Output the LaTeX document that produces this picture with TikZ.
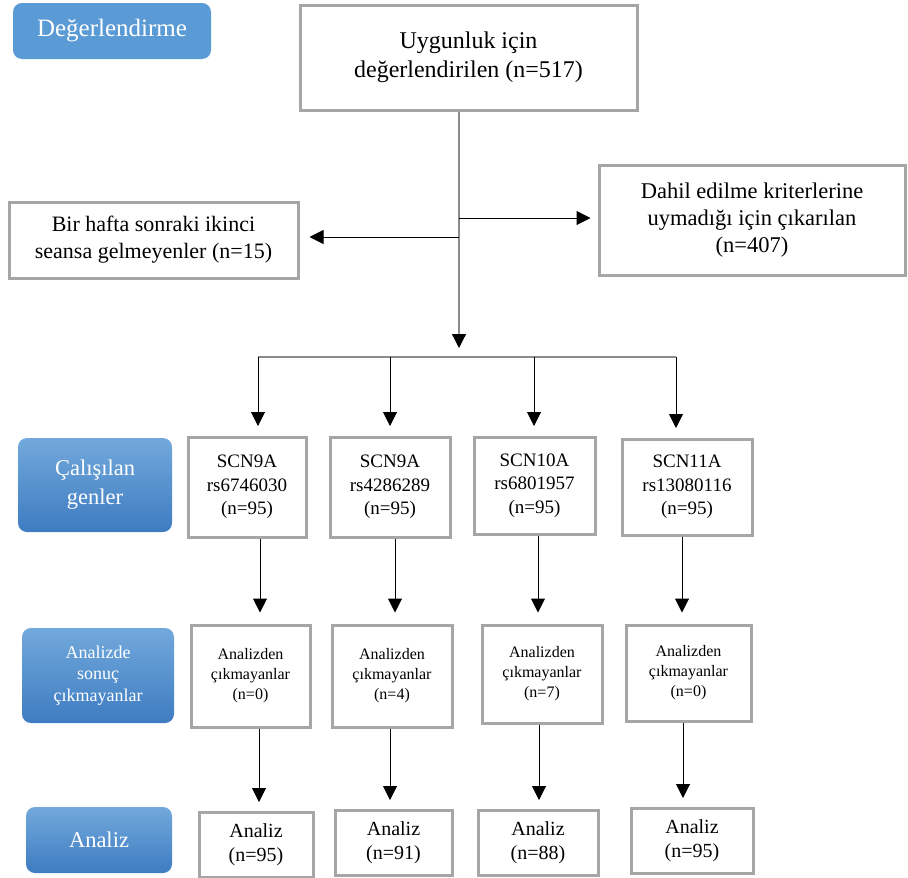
\documentclass[tikz,border=0pt]{standalone}
\usepackage{fontspec}
\setmainfont{Liberation Serif}
\usetikzlibrary{arrows.meta}
\definecolor{bord}{HTML}{A6A6A6}
\definecolor{flatblue}{HTML}{5B9BD5}
\definecolor{topblue}{HTML}{72A9DC}
\definecolor{botblue}{HTML}{3E7CC1}
\definecolor{trunkgray}{HTML}{8C8C8C}
\tikzset{
  box/.style={draw=bord, line width=3pt, fill=white, align=center, inner sep=0pt, text=black},
  lbl/.style={rounded corners=9pt, top color=topblue, bottom color=botblue, draw=none, text=white, align=center, inner sep=0pt},
  tip/.style={-{Triangle[width=14pt,length=14pt,color=black]}},
  arr/.style={tip, line width=1pt, draw=black},
  trunk/.style={line width=1.2pt, draw=trunkgray},
}
\begin{document}
\begin{tikzpicture}[x=1pt,y=-1pt]
\useasboundingbox (0,0) rectangle (908,878);
% side labels
\node[lbl, top color=flatblue, bottom color=flatblue, minimum width=198pt, minimum height=56pt, font=\rmfamily\fontsize{25}{28}\selectfont] (deg) at (112,31) {Değerlendirme};
\node[lbl, minimum width=154pt, minimum height=94pt, font=\rmfamily\fontsize{22.5}{29}\selectfont] (gl) at (95,485) {Çalışılan\\genler};
\node[lbl, minimum width=152pt, minimum height=95pt, font=\rmfamily\fontsize{18}{21.5}\selectfont] (al) at (98,675.5) {Analizde\\sonuç\\çıkmayanlar};
\node[lbl, minimum width=146pt, minimum height=66pt, font=\rmfamily\fontsize{22.5}{26}\selectfont] (anl) at (99,840) {Analiz};
% main boxes
\node[box, minimum width=337pt, minimum height=105pt, font=\rmfamily\fontsize{24}{28.5}\selectfont] (top) at (468.5,57.5) {Uygunluk için\\değerlendirilen (n=517)};
\node[box, minimum width=289pt, minimum height=76pt, font=\rmfamily\fontsize{22}{27}\selectfont] (left) at (153.5,240) {Bir hafta sonraki ikinci\\seansa gelmeyenler (n=15)};
\node[box, minimum width=306pt, minimum height=110pt, font=\rmfamily\fontsize{22.5}{27}\selectfont] (right) at (752,220) {Dahil edilme kriterlerine\\uymadığı için çıkarılan\\(n=407)};
% genes
\tikzset{gfont/.style={font=\rmfamily\fontsize{19}{23.5}\selectfont}}
\node[box, gfont, minimum width=118pt, minimum height=100pt] (g1) at (247,487) {SCN9A\\rs6746030\\(n=95)};
\node[box, gfont, minimum width=120pt, minimum height=100pt] (g2) at (390,487) {SCN9A\\rs4286289\\(n=95)};
\node[box, gfont, minimum width=121pt, minimum height=97pt] (g3) at (534.5,485.5) {SCN10A\\rs6801957\\(n=95)};
\node[box, gfont, minimum width=130pt, minimum height=96pt] (g4) at (687,487) {SCN11A\\rs13080116\\(n=95)};
% excluded
\tikzset{afont/.style={font=\rmfamily\fontsize{16}{20}\selectfont}}
\node[box, afont, minimum width=119pt, minimum height=102pt] (a1) at (250.5,676) {Analizden\\çıkmayanlar\\(n=0)};
\node[box, afont, minimum width=120pt, minimum height=102pt] (a2) at (392,676) {Analizden\\çıkmayanlar\\(n=4)};
\node[box, afont, minimum width=120pt, minimum height=98pt] (a3) at (542,674) {Analizden\\çıkmayanlar\\(n=7)};
\node[box, afont, minimum width=125pt, minimum height=96pt] (a4) at (688.5,673) {Analizden\\çıkmayanlar\\(n=0)};
% analysis
\tikzset{rfont/.style={font=\rmfamily\fontsize{20}{24.5}\selectfont}}
\node[box, rfont, minimum width=114pt, minimum height=65pt] (r1) at (256,844.5) {Analiz\\(n=95)};
\node[box, rfont, minimum width=117pt, minimum height=65pt] (r2) at (393.5,842.5) {Analiz\\(n=91)};
\node[box, rfont, minimum width=120pt, minimum height=65pt] (r3) at (538,842.5) {Analiz\\(n=88)};
\node[box, rfont, minimum width=122pt, minimum height=65pt] (r4) at (692,840.5) {Analiz\\(n=95)};
% trunk
\coordinate (tx) at (459,0);
\coordinate (tj) at (459,348);
\coordinate (hl) at (258,357);
\coordinate (hr) at (676,357);
\coordinate (sl) at (459,237);
\coordinate (sr) at (459,218);
\draw[trunk, tip] (top.south -| tx) -- (tj);
\draw[trunk] (hl) -- (hr);
\draw[arr, shorten >=10pt] (sl) -- (sl -| left.east);
\draw[arr, shorten >=7pt] (sr) -- (sr -| right.west);
% branches
\coordinate (b1) at (258,357);
\coordinate (b2) at (390,357);
\coordinate (b3) at (534,357);
\coordinate (b4) at (676,357);
\foreach \b/\g in {b1/g1,b2/g2,b3/g3,b4/g4}{
  \draw[arr, shorten >=9.5pt] (\b) -- (\b |- \g.north);
}
% gene -> excluded
\coordinate (c1) at (260,0);
\coordinate (c2) at (395,0);
\coordinate (c3) at (538,0);
\coordinate (c4) at (682,0);
\foreach \c/\g/\a in {c1/g1/a1,c2/g2/a2,c3/g3/a3,c4/g4/a4}{
  \draw[arr, shorten >=11pt] (\g.south -| \c) -- (\a.north -| \c);
}
% excluded -> analysis
\coordinate (d1) at (259,0);
\coordinate (d2) at (390,0);
\coordinate (d3) at (539,0);
\coordinate (d4) at (683,0);
\foreach \d/\a/\r in {d1/a1/r1,d2/a2/r2,d3/a3/r3,d4/a4/r4}{
  \draw[arr, shorten >=8.5pt] (\a.south -| \d) -- (\r.north -| \d);
}
\end{tikzpicture}
\end{document}
